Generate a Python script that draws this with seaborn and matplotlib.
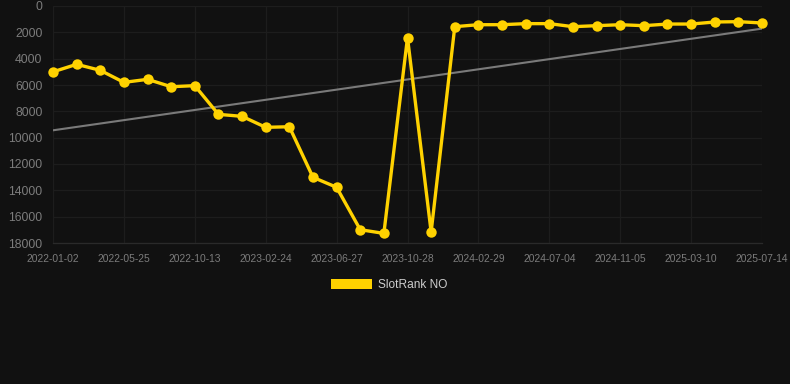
import numpy as np
import pandas as pd
import matplotlib
matplotlib.use("Agg")
import matplotlib.pyplot as plt
import seaborn as sns
from matplotlib.patches import Patch

# ---- data ----
rank_values = [5000, 4430, 4885, 5800, 5570, 6130, 6050, 8230, 8380, 9215, 9170,
               13010, 13770, 16990, 17270, 2400, 17165, 1570, 1420, 1420, 1340,
               1340, 1570, 1495, 1420, 1495, 1370, 1370, 1215, 1190, 1290]
tick_labels = ["2022-01-02", "2022-05-25", "2022-10-13", "2023-02-24", "2023-06-27",
               "2023-10-28", "2024-02-29", "2024-07-04", "2024-11-05", "2025-03-10",
               "2025-07-14"]
y_ticks = [0, 2000, 4000, 6000, 8000, 10000, 12000, 14000, 16000, 18000]
series_name = "SlotRank NO"

df = pd.DataFrame({"idx": np.arange(len(rank_values)), "rank": rank_values})

BG = "#111111"
YELLOW = "#FFD200"
GRID = "#1d1d1d"
TICK = "#7c7c7c"

sns.set_theme(style="dark")
plt.rcParams["font.family"] = ["Liberation Sans", "DejaVu Sans"]

fig = plt.figure(figsize=(7.9, 3.84), dpi=100, facecolor=BG)
ax = fig.add_axes([53 / 790, 1 - 243 / 384, (762 - 53) / 790, (243 - 6) / 384])
ax.set_facecolor(BG)

# trend line (linear fit)
sns.regplot(data=df, x="idx", y="rank", scatter=False, ci=None, ax=ax,
            line_kws=dict(color="#7a7a7a", lw=1.5, zorder=2))

sns.lineplot(data=df, x="idx", y="rank", ax=ax, color=YELLOW, lw=2.4,
             marker="o", markersize=7.5, markeredgewidth=0, zorder=3,
             clip_on=False)
for ln in ax.lines[1:]:
    ln.set_solid_joinstyle("miter")

ax.set_xlim(0, len(rank_values) - 1)
ax.set_ylim(18000, 0)
step = (len(rank_values) - 1) // (len(tick_labels) - 1)
ax.set_xticks(np.arange(0, len(rank_values), step))
ax.set_xticklabels(tick_labels)
ax.set_yticks(y_ticks)
ax.set_yticklabels([str(v) for v in y_ticks])
ax.tick_params(axis="x", colors=TICK, labelsize=7.4, length=0, pad=8)
ax.tick_params(axis="y", colors=TICK, labelsize=8.8, length=0, pad=7.5)
ax.grid(True, color=GRID, lw=0.9)
ax.set_xlabel("")
ax.set_ylabel("")
for s in ax.spines.values():
    s.set_visible(False)
ax.spines["bottom"].set_visible(True)
ax.spines["bottom"].set_color("#2a2a2a")
ax.spines["bottom"].set_linewidth(0.9)
if ax.get_legend():
    ax.get_legend().remove()

fig.legend(handles=[Patch(facecolor=YELLOW, edgecolor="none", label=series_name)],
           loc="center", bbox_to_anchor=(0.493, 1 - 285 / 384), frameon=False,
           fontsize=8.6, labelcolor="#cccccc", handlelength=3.4, handleheight=0.95,
           handletextpad=0.5)

fig.savefig("out.png", dpi=100, facecolor=BG)
